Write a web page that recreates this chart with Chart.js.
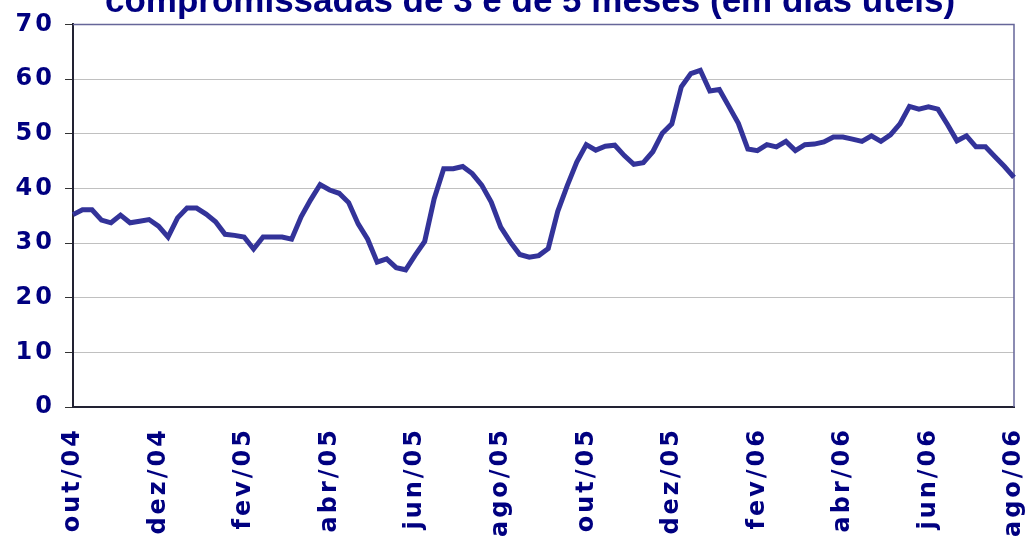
<!DOCTYPE html>
<html>
<head>
<meta charset="utf-8">
<script src="https://cdn.jsdelivr.net/npm/chart.js@4.4.0/dist/chart.umd.min.js"></script>
<style>
  html, body { margin: 0; padding: 0; background: #fff; }
</style>
</head>
<body>
<canvas id="chart" width="1025" height="537"></canvas>
<script>
const titleText = 'compromissadas de 3 e de 5 meses (em dias úteis)';
const tickLabels = ['out/04', 'dez/04', 'fev/05', 'abr/05', 'jun/05', 'ago/05',
                    'out/05', 'dez/05', 'fev/06', 'abr/06', 'jun/06', 'ago/06'];
const labelEvery = 9;   // one axis label every 9 observations
const yMin = 0, yMax = 70, yStep = 10;

const values = [
  35.2, 36.1, 36.1, 34.2, 33.7, 35.1, 33.7, 34.0, 34.3, 33.1,
  31.1, 34.6, 36.4, 36.4, 35.3, 33.9, 31.6, 31.4, 31.1, 28.9,
  31.1, 31.1, 31.1, 30.7, 34.8, 37.9, 40.7, 39.7, 39.1, 37.4,
  33.5, 30.7, 26.5, 27.1, 25.5, 25.1, 27.8, 30.3, 38.1, 43.6,
  43.6, 44.0, 42.7, 40.6, 37.5, 32.9, 30.2, 27.9, 27.4, 27.7,
  29.0, 35.8, 40.5, 44.8, 48.0, 47.0, 47.7, 47.9, 46.0, 44.4,
  44.7, 46.7, 50.1, 51.8, 58.6, 61.0, 61.6, 57.8, 58.1, 55.0,
  51.9, 47.2, 46.9, 48.0, 47.6, 48.6, 46.9, 48.0, 48.1, 48.5,
  49.4, 49.4, 49.0, 48.6, 49.6, 48.6, 49.8, 51.8, 55.0, 54.5,
  54.9, 54.5, 51.7, 48.7, 49.6, 47.6, 47.6, 45.8, 44.0, 42.0
];

const labels = values.map((v, i) => (i % labelEvery === 0 ? tickLabels[i / labelEvery] : ''));

const navy = '#000080';
const tickFont = { family: 'DejaVu Sans', weight: 'bold', size: 24 };
const tickSpacing = '3px';

// wide lettering for the axis labels, top/right frame, and the (cut off) title
const framePlugin = {
  id: 'frame',
  beforeLayout(chart) { chart.ctx.letterSpacing = tickSpacing; },
  beforeDraw(chart) { chart.ctx.letterSpacing = tickSpacing; },
  beforeDatasetsDraw(chart) {
    const { ctx, chartArea: a } = chart;
    ctx.save();
    ctx.strokeStyle = '#666699';
    ctx.lineWidth = 1.5;
    ctx.beginPath();
    ctx.moveTo(a.left, a.top);
    ctx.lineTo(a.right, a.top);
    ctx.lineTo(a.right, a.bottom);
    ctx.stroke();
    ctx.restore();
  },
  afterDraw(chart) {
    const ctx = chart.ctx;
    ctx.save();
    ctx.letterSpacing = '0px';
    ctx.font = 'bold 100px "Liberation Sans"';
    const size = 100 * 850 / ctx.measureText(titleText).width;
    ctx.font = 'bold ' + size.toFixed(1) + 'px "Liberation Sans"';
    ctx.fillStyle = navy;
    ctx.textAlign = 'center';
    ctx.textBaseline = 'alphabetic';
    ctx.fillText(titleText, 530, 12);
    ctx.restore();
  }
};

new Chart(document.getElementById('chart').getContext('2d'), {
  type: 'line',
  data: {
    labels: labels,
    datasets: [{
      data: values,
      borderColor: '#333399',
      borderWidth: 5,
      pointRadius: 0,
      fill: false,
      tension: 0
    }]
  },
  options: {
    responsive: false,
    animation: false,
    devicePixelRatio: 1,
    layout: { padding: { top: 23, right: 11, left: 0, bottom: 0 } },
    plugins: {
      legend: { display: false },
      tooltip: { enabled: false }
    },
    scales: {
      x: {
        grid: { display: false, drawTicks: false },
        border: { color: '#222233', width: 2 },
        ticks: {
          autoSkip: false,
          minRotation: 90,
          maxRotation: 90,
          padding: 20,
          color: navy,
          font: tickFont
        },
        afterFit(s) { s.height = 130; s.paddingLeft = 0; s.paddingRight = 0; }
      },
      y: {
        min: yMin,
        max: yMax,
        ticks: { stepSize: yStep, padding: 10, color: navy, font: tickFont },
        grid: { color: '#c0c0c0', lineWidth: 1, tickLength: 8, tickColor: '#333333' },
        border: { color: '#222233', width: 2 },
        afterFit(s) { s.width = 73; }
      }
    }
  },
  plugins: [framePlugin]
});
</script>
</body>
</html>
